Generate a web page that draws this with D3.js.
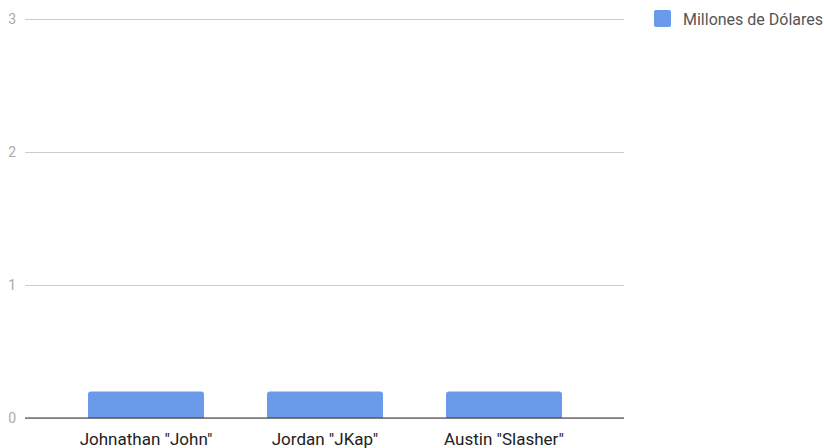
<!DOCTYPE html>
<html>
<head>
<meta charset="utf-8">
<script src="https://cdn.jsdelivr.net/npm/d3@7"></script>
<style>
  html, body { margin: 0; padding: 0; background: #fff; }
  svg { display: block; font-family: Roboto, "Noto Sans", Arial, sans-serif; }
</style>
</head>
<body>
<svg id="chart" width="824" height="448"></svg>
<script>
const categories = ['Johnathan "John"', 'Jordan "JKap"', 'Austin "Slasher"'];
const values = [0.2, 0.2, 0.2];
const seriesName = "Millones de Dólares";
const yTicks = [0, 1, 2, 3];

(function () {
const svg = d3.select("#chart");
const mLeft = 25, mRight = 624, mTop = 19, mBottom = 418;

const y = d3.scaleLinear().domain([0, 3]).range([mBottom, mTop]);
const x = d3.scaleBand().domain(categories).range([56.5, 593.5])
  .paddingInner(0.352).paddingOuter(0.176);

// gridlines
const yAxis = d3.axisLeft(y).tickValues(yTicks).tickSize(-(mRight - mLeft)).tickPadding(9).tickFormat(d3.format("d"));
const gy = svg.append("g").attr("transform", `translate(${mLeft},0)`).call(yAxis);
gy.select(".domain").remove();
gy.selectAll(".tick line").attr("stroke", "#cccccc").attr("stroke-width", 1);
gy.selectAll(".tick text").attr("fill", "#aaaaaa").attr("font-size", 14).attr("font-family", "Roboto, sans-serif");

// bars
const r = 3;
svg.append("g").selectAll("path").data(categories).join("path")
  .attr("fill", "#6a9bea")
  .attr("d", (c, i) => {
    const x0 = x(c), w = x.bandwidth(), y0 = y(values[i]), y1 = y(0);
    return `M${x0},${y1}V${y0 + r}Q${x0},${y0} ${x0 + r},${y0}H${x0 + w - r}Q${x0 + w},${y0} ${x0 + w},${y0 + r}V${y1}Z`;
  });

// baseline on top
svg.append("line").attr("x1", mLeft).attr("x2", mRight).attr("y1", y(0)).attr("y2", y(0))
  .attr("stroke", "#333333").attr("stroke-width", 1);

// x axis labels
const xAxis = d3.axisBottom(x).tickSize(0).tickPadding(15);
const gx = svg.append("g").attr("transform", `translate(0,${mBottom})`).call(xAxis);
gx.select(".domain").remove();
gx.selectAll(".tick text").attr("fill", "#222222").attr("font-size", 17).attr("font-family", "Roboto, sans-serif");

// legend
const lg = svg.append("g");
lg.append("rect").attr("x", 654).attr("y", 10).attr("width", 17).attr("height", 17).attr("rx", 2)
  .attr("fill", "#6a9bea");
lg.append("text").attr("x", 683).attr("y", 25).attr("font-size", 16).attr("fill", "#555555")
  .attr("font-family", "Roboto, sans-serif").text(seriesName);
})();
</script>
</body>
</html>
